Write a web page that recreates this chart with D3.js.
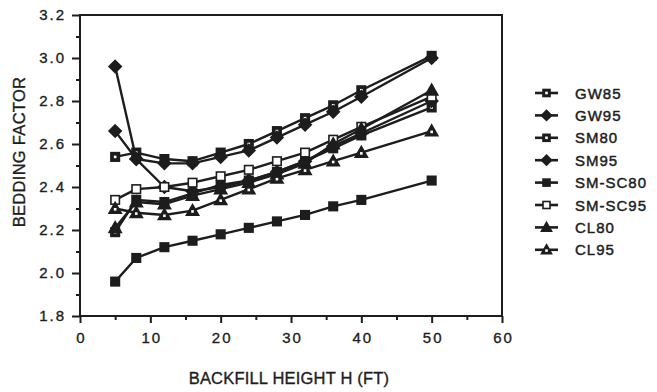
<!DOCTYPE html>
<html>
<head>
<meta charset="utf-8">
<script src="https://cdn.jsdelivr.net/npm/d3@7"></script>
<style>
  html, body { margin: 0; padding: 0; background: #fff; }
  svg { display: block; }
  text { font-family: "Liberation Sans", Arial, sans-serif; fill: #1d1d1d; stroke: #1d1d1d; stroke-width: 0.35px; }
</style>
</head>
<body>
<svg id="chart" width="657" height="392"></svg>
<script>
// Backfill heights (ft) at which bedding factors were computed
const heights = [5, 8, 12, 16, 20, 24, 28, 32, 36, 40, 50];

// Bedding factor per soil type / compaction level
const seriesNames = ["GW85", "GW95", "SM80", "SM95", "SM-SC80", "SM-SC95", "CL80", "CL95"];
const gw85   = [2.54, 2.56, 2.53, 2.52, 2.56, 2.60, 2.66, 2.72, 2.78, 2.85, 3.01];
const gw95   = [2.96, 2.53, 2.51, 2.51, 2.54, 2.57, 2.63, 2.69, 2.75, 2.82, 3.00];
const sm80   = [2.19, 2.34, 2.33, 2.37, 2.41, 2.43, 2.47, 2.52, 2.58, 2.64, 2.77];
const sm95   = [2.66, 2.53, 2.40, 2.38, 2.40, 2.43, 2.47, 2.52, 2.59, 2.65, 2.80];
const smsc80 = [1.96, 2.07, 2.12, 2.15, 2.18, 2.21, 2.24, 2.27, 2.31, 2.34, 2.43];
const smsc95 = [2.34, 2.39, 2.40, 2.42, 2.45, 2.48, 2.52, 2.56, 2.62, 2.68, 2.82];
const cl80   = [2.21, 2.33, 2.32, 2.36, 2.39, 2.42, 2.46, 2.51, 2.60, 2.67, 2.85];
const cl95   = [2.30, 2.28, 2.27, 2.29, 2.34, 2.39, 2.44, 2.48, 2.52, 2.56, 2.66];
const seriesValues = [gw85, gw95, sm80, sm95, smsc80, smsc95, cl80, cl95];
// marker style per series: shape and fill
const markerShapes = ["square", "diamond", "square", "diamond", "square", "square", "triangle", "triangle"];
const markerFills  = ["dot", "solid", "dot", "solid", "solid", "open", "solid", "dot"];

const xTicks = [0, 10, 20, 30, 40, 50, 60];
const yTicks = [1.8, 2.0, 2.2, 2.4, 2.6, 2.8, 3.0, 3.2];

const ink = "#1d1d1d";
const svg = d3.select("#chart");
const plot = { left: 80, right: 502, top: 15, bottom: 316 };

const x = d3.scaleLinear().domain([0, 60]).range([plot.left, plot.right]);
const y = d3.scaleLinear().domain([1.8, 3.2]).range([plot.bottom, plot.top]);

// frame around the plot area
svg.append("rect")
  .attr("x", plot.left).attr("y", plot.top)
  .attr("width", plot.right - plot.left).attr("height", plot.bottom - plot.top)
  .attr("fill", "none").attr("stroke", ink).attr("stroke-width", 2);

// y axis: major ticks every 0.2, minor every 0.1
const yAxis = d3.axisLeft(y).tickValues(yTicks).tickFormat(d3.format(".1f")).tickSize(8).tickPadding(6);
const gy = svg.append("g").attr("transform", `translate(${plot.left},0)`).call(yAxis);
const yMinor = d3.axisLeft(y).tickValues(d3.range(1.9, 3.2, 0.2)).tickFormat("").tickSize(4);
svg.append("g").attr("transform", `translate(${plot.left},0)`).call(yMinor);

// x axis: major ticks every 10, minor every 5
const xAxis = d3.axisBottom(x).tickValues(xTicks).tickFormat(d3.format("d")).tickSize(7).tickPadding(9);
const gx = svg.append("g").attr("transform", `translate(0,${plot.bottom})`).call(xAxis);
const xMinor = d3.axisBottom(x).tickValues(d3.range(5, 60, 10)).tickFormat("").tickSize(4);
svg.append("g").attr("transform", `translate(0,${plot.bottom})`).call(xMinor);

svg.selectAll(".domain").remove();
svg.selectAll(".tick line").attr("stroke", ink).attr("stroke-width", 2);
svg.selectAll(".tick text")
  .style("font-size", "15px")
  .style("font-family", "'Liberation Sans', Arial, sans-serif")
  .attr("fill", ink).attr("letter-spacing", "2px");
// keep centred x labels centred despite the trailing letter spacing
gx.selectAll(".tick text").attr("dx", "1px");

// axis titles
svg.append("text")
  .attr("x", 289).attr("y", 384)
  .attr("text-anchor", "middle")
  .style("font-size", "16.5px").attr("letter-spacing", "0.2px")
  .text("BACKFILL HEIGHT H (FT)");
svg.append("text")
  .attr("transform", "translate(25,152) rotate(-90)")
  .attr("text-anchor", "middle")
  .style("font-size", "16.5px").attr("letter-spacing", "0.3px")
  .text("BEDDING FACTOR");

// marker drawing helper
function drawMarker(g, shape, fill, size) {
  const s = size;
  let node;
  if (shape === "square") {
    node = g.append("rect").attr("x", -s / 2).attr("y", -s / 2).attr("width", s).attr("height", s);
  } else if (shape === "diamond") {
    const r = s * 0.72;
    node = g.append("path").attr("d", `M0,${-r}L${r},0L0,${r}L${-r},0Z`);
  } else {
    const r = s * 0.72;
    node = g.append("path").attr("d", `M0,${-r}L${r},${r * 0.75}L${-r},${r * 0.75}Z`);
  }
  node.attr("stroke", ink).attr("stroke-width", 1.6)
      .attr("fill", fill === "open" ? "#fff" : ink);
  if (fill === "dot") {
    g.append("rect").attr("x", -1.3).attr("y", shape === "triangle" ? -0.5 : -1.3)
      .attr("width", 2.6).attr("height", 2.6).attr("fill", "#fff");
  }
}

const line = d3.line().x((d, i) => x(heights[i])).y(d => y(d));

seriesValues.forEach((vals, si) => {
  const g = svg.append("g");
  g.append("path").datum(vals)
    .attr("d", line)
    .attr("fill", "none").attr("stroke", ink).attr("stroke-width", 2.4)
    .attr("stroke-linejoin", "round");
  vals.forEach((v, i) => {
    const m = g.append("g").attr("transform", `translate(${x(heights[i])},${y(v)})`);
    drawMarker(m, markerShapes[si], markerFills[si], 8.5);
  });
});

// legend
const legend = svg.append("g");
seriesNames.forEach((name, i) => {
  const ly = 93 + i * 22.4;
  const row = legend.append("g").attr("transform", `translate(0,${ly})`);
  row.append("line").attr("x1", 535).attr("x2", 558).attr("y1", 0).attr("y2", 0)
    .attr("stroke", ink).attr("stroke-width", 2.6);
  const m = row.append("g").attr("transform", "translate(546.5,0)");
  drawMarker(m, markerShapes[i], markerFills[i], 7);
  row.append("text").attr("x", 575).attr("y", 5.5)
    .style("font-size", "15px").attr("letter-spacing", "1px")
    .style("stroke-width", "0.45px")
    .text(name);
});
</script>
</body>
</html>
